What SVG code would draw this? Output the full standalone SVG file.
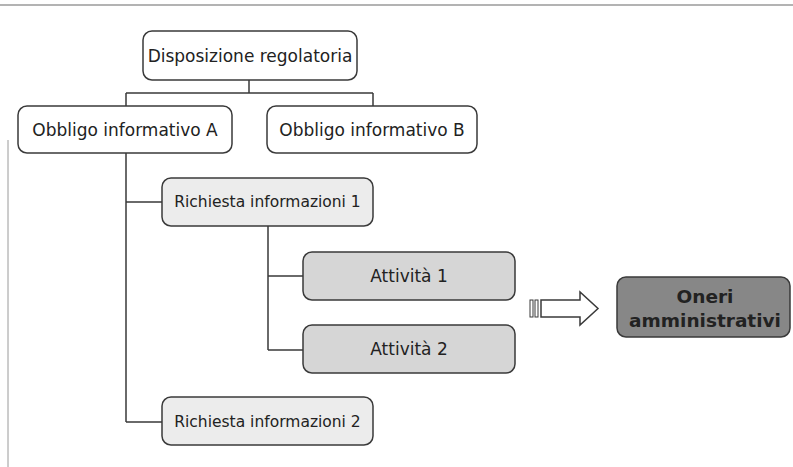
<svg xmlns="http://www.w3.org/2000/svg" width="793" height="467" viewBox="0 0 793 467">
<style>
.box{stroke:#3a3a3a;stroke-width:1.5}
.w{fill:#ffffff}
.l{fill:#ececec}
.m{fill:#d6d6d6}
.d{fill:#878787}
.t{font-family:"DejaVu Sans",Verdana,sans-serif;fill:#222;text-anchor:middle}
.c{stroke:#3a3a3a;stroke-width:1.5;fill:none}
</style>
<rect width="793" height="467" fill="#ffffff"/>
<line x1="0" y1="5" x2="793" y2="5" stroke="#9a9a9a" stroke-width="1.5"/>
<line x1="8" y1="140" x2="8" y2="467" stroke="#9a9a9a" stroke-width="1"/>
<g id="connectors">
<path class="c" d="M249 80V93M126 93H373M126 93V106M373 93V106"/>
<path class="c" d="M126 153V422M126 202H162M126 422H162"/>
<path class="c" d="M268 226V350M268 276H303M268 350H303"/>
</g>
<g id="n1"><rect class="box w" x="143" y="31" width="214" height="49" rx="9"/><text class="t" x="250" y="62" font-size="17">Disposizione regolatoria</text></g>
<g id="n2"><rect class="box w" x="18" y="106" width="214" height="47" rx="9"/><text class="t" x="125" y="136" font-size="17">Obbligo informativo A</text></g>
<g id="n3"><rect class="box w" x="267" y="106" width="210" height="47" rx="9"/><text class="t" x="372" y="136" font-size="17">Obbligo informativo B</text></g>
<g id="n4"><rect class="box l" x="162" y="178" width="211" height="48" rx="9"/><text class="t" x="267.5" y="207" font-size="15.5">Richiesta informazioni 1</text></g>
<g id="n5"><rect class="box m" x="303" y="252" width="212" height="48" rx="9"/><text class="t" x="409" y="282" font-size="17">Attività 1</text></g>
<g id="n6"><rect class="box m" x="303" y="325" width="212" height="48" rx="9"/><text class="t" x="409" y="355" font-size="17">Attività 2</text></g>
<g id="n7"><rect class="box l" x="162" y="397" width="211" height="48" rx="9"/><text class="t" x="267.5" y="427" font-size="15.5">Richiesta informazioni 2</text></g>
<g id="arrow">
<rect x="530" y="300" width="3" height="17" fill="none" stroke="#3a3a3a" stroke-width="1"/>
<rect x="535" y="300" width="3" height="17" fill="none" stroke="#3a3a3a" stroke-width="1"/>
<path d="M541 300H580V292L598 308.5L580 325V317H541Z" fill="#ffffff" stroke="#3a3a3a" stroke-width="1.5"/>
</g>
<g id="n8"><rect class="box d" x="617" y="277" width="173" height="60" rx="9"/><text class="t" x="705" y="303" font-size="18.5" font-weight="bold" fill="#1a1a1a">Oneri</text><text class="t" x="705" y="327" font-size="18.5" font-weight="bold" fill="#1a1a1a">amministrativi</text></g>
</svg>
